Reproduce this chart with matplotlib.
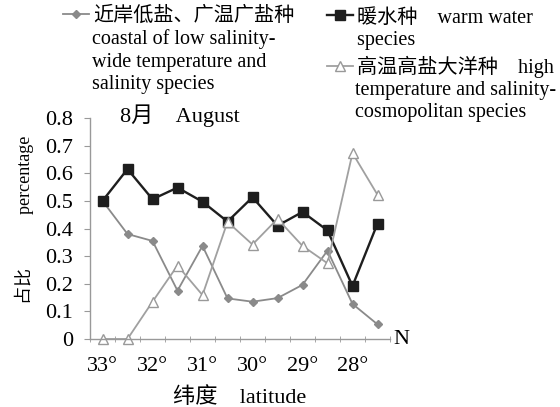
import matplotlib
matplotlib.use("Agg")
import matplotlib.pyplot as plt
from matplotlib.ticker import FixedLocator, NullFormatter

plt.rcParams['font.family'] = ['Liberation Serif', 'Noto Sans CJK SC']

# ---- data ----
latitudes = [33, 32.5, 32, 31.5, 31, 30.5, 30, 29.5, 29, 28.5, 28, 27.5]
tick_labels = ['33°', '32°', '31°', '30°', '29°', '28°']
coastal = [0.50, 0.38, 0.355, 0.175, 0.337, 0.147, 0.135, 0.148, 0.196, 0.32, 0.127, 0.053]
warm = [0.50, 0.615, 0.506, 0.548, 0.497, 0.425, 0.513, 0.41, 0.46, 0.393, 0.192, 0.418]
high = [0.0, 0.0, 0.135, 0.266, 0.159, 0.424, 0.342, 0.435, 0.337, 0.274, 0.673, 0.522]
yticks = [0, 0.1, 0.2, 0.3, 0.4, 0.5, 0.6, 0.7, 0.8]
ytick_labels = ['0', '0.1', '0.2', '0.3', '0.4', '0.5', '0.6', '0.7', '0.8']

lab_coastal = ['近岸低盐、广温广盐种', 'coastal of low salinity-', 'wide temperature and', 'salinity species']
lab_warm = ['暖水种　warm water', ' species']
lab_high = ['高温高盐大洋种　high', 'temperature and salinity-', 'cosmopolitan species']

W, H = 560, 407
fig = plt.figure(figsize=(W / 100, H / 100), dpi=100)
ax = fig.add_axes([90 / W, 1 - 339 / H, 300 / W, 221 / H])

x = list(range(len(latitudes)))
l1, = ax.plot(x, coastal, color='#8a8a8a', lw=1.3, marker='D', ms=4.5,
              mfc='#8a8a8a', mec='#8a8a8a', clip_on=False)
l2, = ax.plot(x, warm, color='#1e1e1e', lw=1.7, marker='s', ms=7,
              mfc='#1e1e1e', mec='#1e1e1e', clip_on=False)
l3, = ax.plot(x, high, color='#a0a0a0', lw=1.3, marker='^', ms=7.5,
              mfc='white', mec='#999999', mew=1.0, clip_on=False)

ax.set_xlim(-0.5, len(latitudes) - 0.5)
ax.set_ylim(0, 0.8)

for s in ['top', 'right']:
    ax.spines[s].set_visible(False)
for s in ['left', 'bottom']:
    ax.spines[s].set_color('#999999')
    ax.spines[s].set_linewidth(1.0)

ax.set_xticks(x[::2])
ax.set_xticklabels(tick_labels, fontsize=16)
ax.tick_params(axis='x', which='major', length=0, pad=13)
ax.xaxis.set_minor_locator(FixedLocator([i + 0.5 for i in range(-1, len(latitudes))]))
ax.xaxis.set_minor_formatter(NullFormatter())
ax.tick_params(axis='x', which='minor', direction='inout', length=5, color='#999999')

ax.set_yticks(yticks)
ax.set_yticklabels(ytick_labels, fontsize=16)
ax.tick_params(axis='y', direction='out', length=4, color='#999999', pad=8)

ax.set_xlabel('纬度　latitude', fontsize=16, labelpad=8)
ax.set_ylabel('占比　　　percentage', fontsize=13)
ax.yaxis.set_label_coords(-0.187, 0.54)

ax.text(0.1, 1.01, '8月　August', transform=ax.transAxes, fontsize=16,
        ha='left', va='center')
ax.text(1.01, 0.0, 'N', transform=ax.transAxes, fontsize=16, ha='left', va='center')

LFS = 14.5
leg_kw = dict(frameon=False, fontsize=LFS, handlelength=1.3, handletextpad=0.2,
              borderpad=0, borderaxespad=0, loc='center left')
LSTEP = 23


def add_entry(handle, lines, hx, y0, tx):
    fig.legend(handles=[handle], labels=[lines[0]],
               bbox_to_anchor=(hx / W, 1 - y0 / H), **leg_kw)
    for k, line in enumerate(lines[1:], start=1):
        fig.text(tx / W, 1 - (y0 + k * LSTEP) / H, line, fontsize=LFS,
                 ha='left', va='center')


add_entry(l1, lab_coastal, 63, 16, 92)
add_entry(l2, lab_warm, 327, 18, 352)
add_entry(l3, lab_high, 327, 67, 355)

fig.savefig('out.png', dpi=100)
